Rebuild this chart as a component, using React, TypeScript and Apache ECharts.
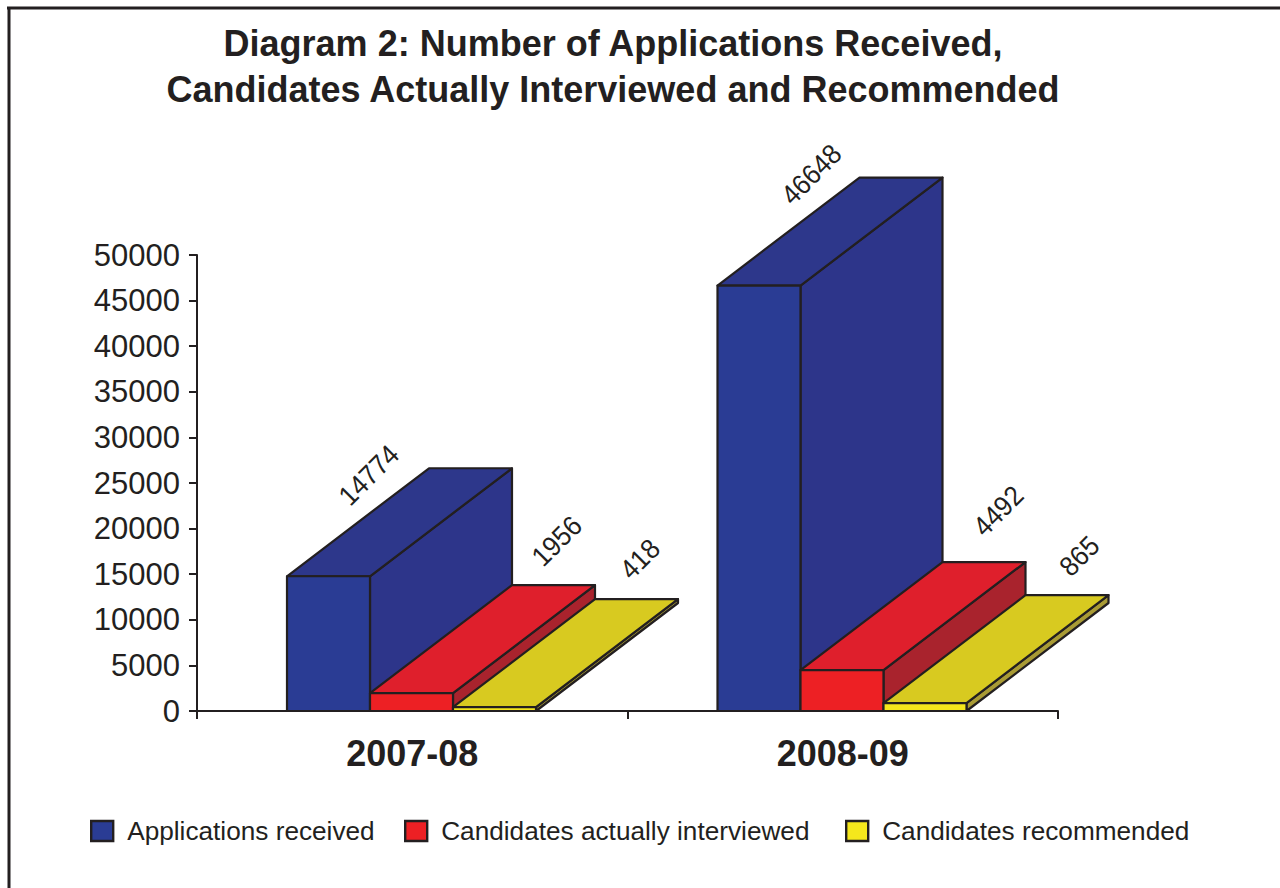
import React, { useEffect, useRef } from "react";
import * as echarts from "echarts";

const categories = ["2007-08", "2008-09"];
const applicationsReceived = [14774, 46648];
const candidatesInterviewed = [1956, 4492];
const candidatesRecommended = [418, 865];
const yTicks = { min: 0, max: 50000, interval: 5000 };

const INK = "#231f20";
const FONT = "'Liberation Sans', Arial, sans-serif";
const DEPTH_X = 142;
const DEPTH_Y = -108;
const BAR_FRACTION = 0.1928;

type Look = { name: string; front: string; top: string; side: string; labelShift: number[][]; index: number };

const looks: Look[] = [
  { name: "Applications received", front: "#2a3c94", top: "#2d378b", side: "#2d358a", labelShift: [[82, -101], [94, -111]], index: 0 },
  { name: "Candidates actually interviewed", front: "#ed2024", top: "#df1f2c", side: "#a9232d", labelShift: [[187, -152], [198, -159]], index: 1 },
  { name: "Candidates recommended", front: "#f5e71c", top: "#d8ca20", side: "#a99b35", labelShift: [[187, -148], [196, -147]], index: 2 },
];

function series3d(look: Look, values: number[]) {
  return {
    type: "custom",
    name: look.name,
    coordinateSystem: "cartesian2d",
    itemStyle: { color: look.front },
    encode: { x: 0, y: 1 },
    data: values.map((v, i) => [i, v]),
    z: 3 + look.index,
    renderItem: (params: any, api: any) => {
      const i = api.value(0);
      const v = api.value(1);
      const top = api.coord([i, v]);
      const base = api.coord([i, 0]);
      const bw = api.size([1, 0])[0] * BAR_FRACTION;
      const x0 = top[0] + (look.index - 1.5) * bw - 0.75;
      const x1 = x0 + bw;
      const yT = top[1];
      const yB = base[1];
      const edge = { stroke: INK, lineWidth: 2.2, lineJoin: "round" };
      const shift = look.labelShift[params.dataIndex];
      return {
        type: "group",
        children: [
          {
            type: "polygon",
            shape: { points: [[x1, yB], [x1 + DEPTH_X, yB + DEPTH_Y], [x1 + DEPTH_X, yT + DEPTH_Y], [x1, yT]] },
            style: { fill: look.side, ...edge },
          },
          {
            type: "polygon",
            shape: { points: [[x0, yT], [x0 + DEPTH_X, yT + DEPTH_Y], [x1 + DEPTH_X, yT + DEPTH_Y], [x1, yT]] },
            style: { fill: look.top, ...edge },
          },
          {
            type: "polygon",
            shape: { points: [[x0, yB], [x0, yT], [x1, yT], [x1, yB]] },
            style: { fill: look.front, ...edge },
          },
          {
            type: "text",
            x: x0 + shift[0],
            y: yT + shift[1],
            rotation: (45 * Math.PI) / 180,
            scaleX: 0.92,
            style: {
              text: String(v),
              fill: INK,
              font: `28px ${FONT}`,
              align: "center",
              verticalAlign: "middle",
            },
          },
        ],
      };
    },
  };
}

const legendAt = (name: string, left: number) => ({
  data: [name],
  left,
  top: 818,
  padding: 0,
  icon: "rect",
  itemWidth: 22,
  itemHeight: 20,
  itemStyle: { borderColor: INK, borderWidth: 2.4 },
  textStyle: { color: INK, fontFamily: FONT, fontSize: 26.2, padding: [0, 0, 2, 9] },
});

export default function App() {
  const ref = useRef<HTMLDivElement>(null);
  useEffect(() => {
    const chart = echarts.init(ref.current!, undefined, { renderer: "svg" });
    chart.setOption({
      animation: false,
      backgroundColor: "#ffffff",
      title: {
        text: "Diagram 2: Number of Applications Received,\nCandidates Actually Interviewed and Recommended",
        left: 608,
        top: 15,
        textAlign: "center",
        textStyle: { color: INK, fontFamily: FONT, fontSize: 36, fontWeight: "bold", lineHeight: 46 },
      },
      grid: { left: 197, right: 222, top: 255, bottom: 177, containLabel: false },
      xAxis: {
        type: "category",
        data: categories,
        axisLine: { lineStyle: { color: INK, width: 2 } },
        axisTick: { show: true, alignWithLabel: false, length: 8, lineStyle: { color: INK, width: 2 } },
        axisLabel: { color: INK, fontFamily: FONT, fontSize: 36, fontWeight: "bold", margin: 24 },
      },
      yAxis: {
        type: "value",
        min: yTicks.min,
        max: yTicks.max,
        interval: yTicks.interval,
        splitLine: { show: false },
        axisLine: { show: true, lineStyle: { color: INK, width: 2 } },
        axisTick: { show: true, length: 8, lineStyle: { color: INK, width: 2 } },
        axisLabel: { color: INK, fontFamily: FONT, fontSize: 31, margin: 17, formatter: (v: number) => String(v) },
      },
      legend: [
        legendAt(looks[0].name, 90),
        legendAt(looks[1].name, 404),
        legendAt(looks[2].name, 845),
      ],
      graphic: [
        { type: "line", shape: { x1: 7, y1: 8, x2: 1280, y2: 8 }, style: { stroke: INK, lineWidth: 3 } },
        { type: "line", shape: { x1: 9, y1: 8, x2: 9, y2: 888 }, style: { stroke: INK, lineWidth: 3 } },
      ],
      series: [
        series3d(looks[0], applicationsReceived),
        series3d(looks[1], candidatesInterviewed),
        series3d(looks[2], candidatesRecommended),
      ],
    });
    return () => chart.dispose();
  }, []);
  return <div ref={ref} style={{ position: "absolute", left: 0, top: 0, width: 1280, height: 888 }} />;
}
